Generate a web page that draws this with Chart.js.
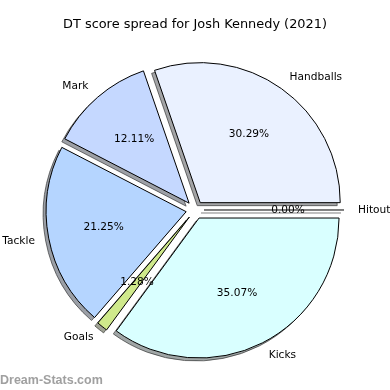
<!DOCTYPE html>
<html>
<head>
<meta charset="utf-8">
<script src="https://cdn.jsdelivr.net/npm/chart.js@4.4.0/dist/chart.umd.min.js"></script>
<style>
  html, body { margin: 0; padding: 0; background: #fff; }
</style>
</head>
<body>
<canvas id="myChart" width="390" height="390"></canvas>
<script>
// slices listed clockwise from 3 o'clock (the original runs anticlockwise)
const labels = ["Hitout", "Kicks", "Goals", "Tackle", "Mark", "Handballs"];
const values = [0.00, 35.07, 1.28, 21.25, 12.11, 30.29];
const colors = ["#ffffff", "#d9ffff", "#cfe98b", "#b5d5ff", "#c5d8ff", "#eaf1ff"];

const EXPLODE = 9;
const SHADOW_DX = -3, SHADOW_DY = 3;

function sliceShift(arc) {
  const mid = (arc.startAngle + arc.endAngle) / 2;
  return [Math.cos(mid) * EXPLODE, Math.sin(mid) * EXPLODE];
}

function drawSlice(ctx, arc) {
  if (arc.endAngle - arc.startAngle > 0) {
    arc.draw(ctx);
    return;
  }
  // zero-size wedge: only its edge shows, as a line
  const a = arc.startAngle;
  ctx.beginPath();
  ctx.moveTo(arc.x, arc.y);
  ctx.lineTo(arc.x + Math.cos(a) * arc.outerRadius, arc.y + Math.sin(a) * arc.outerRadius);
  ctx.strokeStyle = arc.options.borderColor;
  ctx.lineWidth = arc.options.borderWidth;
  ctx.stroke();
}

const explodedPie = {
  id: 'explodedPie',
  beforeDatasetDraw(chart, args) {
    const ctx = chart.ctx;
    const arcs = args.meta.data;
    // shadows
    arcs.forEach(arc => {
      const [dx, dy] = sliceShift(arc);
      ctx.save();
      ctx.translate(dx + SHADOW_DX, dy + SHADOW_DY);
      ctx.filter = 'brightness(0.3) opacity(0.5)';
      drawSlice(ctx, arc);
      ctx.restore();
    });
    // wedges
    arcs.forEach(arc => {
      const [dx, dy] = sliceShift(arc);
      ctx.save();
      ctx.translate(dx, dy);
      drawSlice(ctx, arc);
      ctx.restore();
    });
    return false;
  },
  afterDatasetsDraw(chart) {
    const ctx = chart.ctx;
    const arcs = chart.getDatasetMeta(0).data;
    ctx.save();
    ctx.fillStyle = '#000';
    ctx.font = '10.6px "DejaVu Sans"';
    ctx.textBaseline = 'middle';
    arcs.forEach((arc, i) => {
      const mid = (arc.startAngle + arc.endAngle) / 2;
      const [dx, dy] = sliceShift(arc);
      const cx = arc.x + dx, cy = arc.y + dy;
      const r = arc.outerRadius;
      ctx.textAlign = Math.cos(mid) > 0 ? 'left' : 'right';
      ctx.fillText(labels[i], cx + Math.cos(mid) * r * 1.1, cy + Math.sin(mid) * r * 1.1);
      ctx.textAlign = 'center';
      ctx.fillText(values[i].toFixed(2) + '%', cx + Math.cos(mid) * r * 0.6, cy + Math.sin(mid) * r * 0.6);
    });
    ctx.restore();
  },
  afterDraw(chart) {
    const ctx = chart.ctx;
    ctx.save();
    ctx.fillStyle = '#a0a0a0';
    ctx.font = 'bold 12.5px "Liberation Sans"';
    ctx.textAlign = 'left';
    ctx.textBaseline = 'alphabetic';
    ctx.fillText('Dream-Stats.com', 0, 384);
    ctx.restore();
  }
};

new Chart(document.getElementById('myChart').getContext('2d'), {
  type: 'pie',
  data: {
    labels: labels,
    datasets: [{
      data: values,
      backgroundColor: colors,
      borderColor: '#000',
      borderWidth: 1,
    }]
  },
  options: {
    responsive: false,
    animation: false,
    rotation: 90,
    radius: 140,
    layout: { padding: { top: 0, bottom: 12.4, left: 10, right: 10 } },
    plugins: {
      legend: { display: false },
      tooltip: { enabled: false },
      title: {
        display: true,
        text: 'DT score spread for Josh Kennedy (2021)',
        color: '#000',
        font: { family: 'DejaVu Sans', size: 12.9, weight: 'normal' },
        padding: { top: 17.3, bottom: 9.6 }
      }
    }
  },
  plugins: [explodedPie]
});
</script>
</body>
</html>
